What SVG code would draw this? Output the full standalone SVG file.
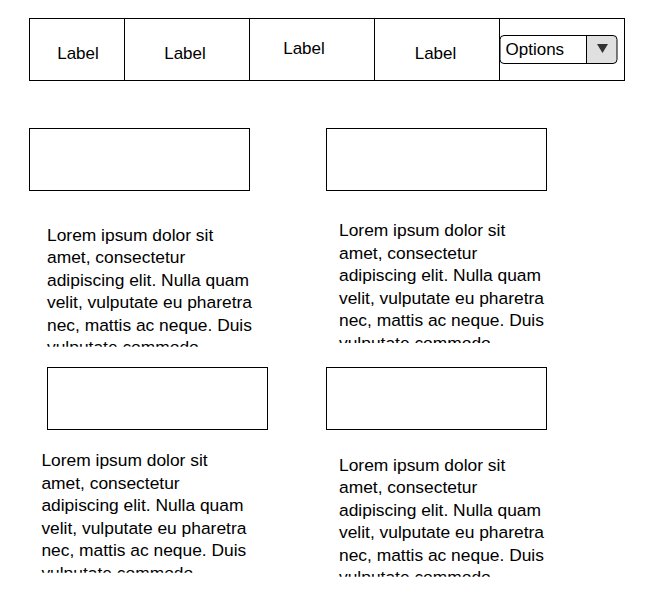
<svg xmlns="http://www.w3.org/2000/svg" width="658" height="598" viewBox="0 0 658 598">
<style>
.box{fill:#fff;stroke:#000;stroke-width:1}
.lbl{font-family:"Liberation Sans",Arial,sans-serif;font-size:17px;fill:#000}
.para{font-family:"Liberation Sans",Arial,sans-serif;font-size:17.4px;fill:#000}
</style>
<defs>
<clipPath id="c1"><rect x="30" y="215" width="240" height="131.7"/></clipPath>
<clipPath id="c2"><rect x="320" y="210" width="240" height="133"/></clipPath>
<clipPath id="c3"><rect x="30" y="440" width="240" height="132.7"/></clipPath>
<clipPath id="c4"><rect x="320" y="445" width="240" height="131.7"/></clipPath>
</defs>
<rect width="658" height="598" fill="#fff"/>
<g id="menubar">
<rect class="box" x="29.5" y="18.5" width="595" height="62"/>
<line x1="124.5" y1="18.5" x2="124.5" y2="80.5" stroke="#000"/>
<line x1="249.5" y1="18.5" x2="249.5" y2="80.5" stroke="#000"/>
<line x1="374.5" y1="18.5" x2="374.5" y2="80.5" stroke="#000"/>
<line x1="499.5" y1="18.5" x2="499.5" y2="80.5" stroke="#000"/>
<text class="lbl" x="78" y="59" text-anchor="middle">Label</text>
<text class="lbl" x="185" y="59" text-anchor="middle">Label</text>
<text class="lbl" x="304" y="53.5" text-anchor="middle">Label</text>
<text class="lbl" x="435.5" y="59" text-anchor="middle">Label</text>
</g>
<g id="options">
<path d="M586.5 35.5 H613 a4 4 0 0 1 4 4 V59.5 a4 4 0 0 1 -4 4 H586.5 Z" fill="#e0e0e0"/>
<rect x="500" y="35.5" width="117" height="28" rx="4" fill="none" stroke="#000"/>
<line x1="586.5" y1="35.5" x2="586.5" y2="63.5" stroke="#000"/>
<path d="M597 44 L608 44 L602.5 53 Z" fill="#333"/>
<text class="lbl" x="505.5" y="54.5">Options</text>
</g>
<g id="box1"><rect class="box" x="29.5" y="128.5" width="220" height="62"/></g>
<g id="box2"><rect class="box" x="326.5" y="128.5" width="220" height="62"/></g>
<g id="box3"><rect class="box" x="47.5" y="367.5" width="220" height="62"/></g>
<g id="box4"><rect class="box" x="326.5" y="367.5" width="220" height="62"/></g>
<g id="text1" clip-path="url(#c1)">
<text class="para" x="47" y="240.7">
<tspan x="47" dy="0">Lorem ipsum dolor sit</tspan>
<tspan x="47" dy="22.5">amet, consectetur</tspan>
<tspan x="47" dy="22.5">adipiscing elit. Nulla quam</tspan>
<tspan x="47" dy="22.5">velit, vulputate eu pharetra</tspan>
<tspan x="47" dy="22.5">nec, mattis ac neque. Duis</tspan>
<tspan x="47" dy="22.5">vulputate commodo</tspan>
</text>
</g>
<g id="text2" clip-path="url(#c2)">
<text class="para" x="339" y="236">
<tspan x="339" dy="0">Lorem ipsum dolor sit</tspan>
<tspan x="339" dy="22.5">amet, consectetur</tspan>
<tspan x="339" dy="22.5">adipiscing elit. Nulla quam</tspan>
<tspan x="339" dy="22.5">velit, vulputate eu pharetra</tspan>
<tspan x="339" dy="22.5">nec, mattis ac neque. Duis</tspan>
<tspan x="339" dy="22.5">vulputate commodo</tspan>
</text>
</g>
<g id="text3" clip-path="url(#c3)">
<text class="para" x="41.4" y="466">
<tspan x="41.4" dy="0">Lorem ipsum dolor sit</tspan>
<tspan x="41.4" dy="22.5">amet, consectetur</tspan>
<tspan x="41.4" dy="22.5">adipiscing elit. Nulla quam</tspan>
<tspan x="41.4" dy="22.5">velit, vulputate eu pharetra</tspan>
<tspan x="41.4" dy="22.5">nec, mattis ac neque. Duis</tspan>
<tspan x="41.4" dy="22.5">vulputate commodo</tspan>
</text>
</g>
<g id="text4" clip-path="url(#c4)">
<text class="para" x="339" y="470.7">
<tspan x="339" dy="0">Lorem ipsum dolor sit</tspan>
<tspan x="339" dy="22.5">amet, consectetur</tspan>
<tspan x="339" dy="22.5">adipiscing elit. Nulla quam</tspan>
<tspan x="339" dy="22.5">velit, vulputate eu pharetra</tspan>
<tspan x="339" dy="22.5">nec, mattis ac neque. Duis</tspan>
<tspan x="339" dy="22.5">vulputate commodo</tspan>
</text>
</g>
<g id="connectors"/>
</svg>
